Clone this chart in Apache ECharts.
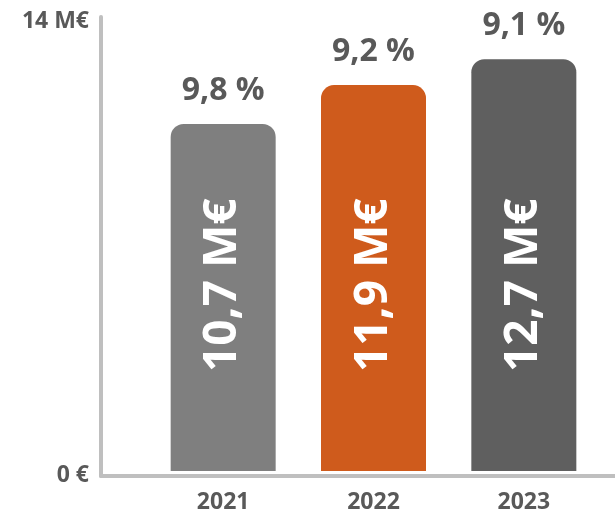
<!DOCTYPE html>
<html>
<head>
<meta charset="utf-8">
<script src="https://cdn.jsdelivr.net/npm/echarts@6/dist/echarts.min.js"></script>
<style>
  html, body { margin: 0; padding: 0; background: #fff; }
  #chart { width: 615px; height: 514px; }
</style>
</head>
<body>
<div id="chart"></div>
<script>
const years = ['2021', '2022', '2023']
const revenue = [10.7, 11.9, 12.7] // M€
const margin = [9.8, 9.2, 9.1] // %
const barColors = ['#7f7f7f', '#cf5b1c', '#5f5f5f']
const yTicks = [0, 14]

const fmt = v => String(v.toFixed(1)).replace('.', ',')
const font = '"Open Sans", "Noto Sans", sans-serif'
const textGray = '#595959'
const tickStyle = { color: textGray, fontWeight: 'bold', fontSize: 23, fontFamily: font }

const chart = echarts.init(document.getElementById('chart'))
chart.setOption({
  animation: false,
  textStyle: { fontFamily: font, fontWeight: 'bold' },
  grid: [
    { left: 101, right: 0, top: 17, bottom: 38 }, // axis frame
    { left: 148, right: 16, top: 17, bottom: 38 } // bars
  ],
  xAxis: [
    {
      gridIndex: 0,
      type: 'category',
      data: [''],
      axisLine: { lineStyle: { color: '#bfbfbf', width: 4 } },
      axisTick: { show: false },
      axisLabel: { show: false }
    },
    {
      gridIndex: 1,
      type: 'category',
      data: years,
      axisLine: { show: false },
      axisTick: { show: false },
      axisLabel: {
        margin: 20,
        color: textGray,
        fontWeight: 'bold',
        fontSize: 23,
        fontFamily: font
      }
    }
  ],
  yAxis: [
    {
      gridIndex: 0,
      type: 'value',
      min: yTicks[0],
      max: yTicks[1],
      interval: yTicks[1],
      splitLine: { show: false },
      axisLine: { show: true, lineStyle: { color: '#bfbfbf', width: 4, cap: 'round' } },
      axisTick: { show: false },
      axisLabel: {
        margin: 12,
        formatter: v => (v === 0 ? '{z|0 €}' : '{t|' + v + ' M€}'),
        rich: {
          t: Object.assign({ padding: [8, 0, 0, 0] }, tickStyle),
          z: Object.assign({ padding: [0, 0, 1, 0] }, tickStyle)
        }
      }
    },
    {
      gridIndex: 1,
      type: 'value',
      min: yTicks[0],
      max: yTicks[1],
      show: false
    }
  ],
  series: [
    {
      type: 'bar',
      xAxisIndex: 1,
      yAxisIndex: 1,
      barWidth: 105,
      data: revenue.map((v, i) => ({
        value: v,
        itemStyle: { color: barColors[i], borderRadius: [13, 13, 0, 0] }
      })),
      label: {
        show: true,
        position: 'insideBottom',
        distance: 99,
        rotate: 90,
        align: 'left',
        verticalAlign: 'middle',
        color: '#fff',
        fontWeight: 'bold',
        fontSize: 46,
        fontFamily: font,
        formatter: p => fmt(p.value) + ' M€'
      }
    },
    {
      type: 'bar',
      xAxisIndex: 1,
      yAxisIndex: 1,
      barWidth: 105,
      barGap: '-100%',
      silent: true,
      itemStyle: { color: 'rgba(0,0,0,0)' },
      data: revenue,
      label: {
        show: true,
        position: 'top',
        distance: 17,
        color: textGray,
        fontWeight: 'bold',
        fontSize: 32,
        fontFamily: font,
        formatter: p => fmt(margin[p.dataIndex]) + ' %'
      }
    }
  ]
})
</script>
</body>
</html>
